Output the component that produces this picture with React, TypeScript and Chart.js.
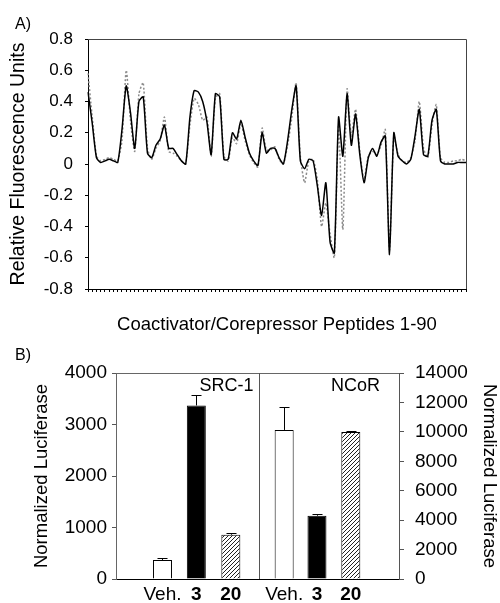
import React, { useEffect, useRef } from "react";
import { Chart, registerables } from "chart.js";

Chart.register(...registerables);

const FONT = "'Liberation Sans', Arial, Helvetica, sans-serif";

// ---------- Panel A data ----------
const peptideLabels = Array.from({ length: 90 }, (_, i) => String(i + 1));

const solidSeries = [
  0.46, 0.26, 0.04, 0.01, 0.02, 0.03, 0.02, 0.01, 0.22, 0.5,
  0.33, 0.1, 0.4, 0.43, 0.07, 0.04, 0.12, 0.16, 0.25, 0.1,
  0.1, 0.06, 0.02, 0.0, 0.3, 0.47, 0.46, 0.4, 0.27, 0.06,
  0.45, 0.43, 0.03, 0.03, 0.2, 0.16, 0.28, 0.17, 0.07, 0.02,
  -0.01, 0.2, 0.07, 0.1, 0.1, 0.04, 0.0, 0.15, 0.35, 0.5,
  0.02, -0.03, 0.03, 0.02, -0.14, -0.33, -0.12, -0.5, -0.57, 0.3,
  0.05, 0.45, 0.12, 0.32, 0.06, -0.12, 0.04, 0.1, 0.05, 0.14,
  0.18, -0.58, 0.2, 0.05, 0.02, 0.0, 0.03, 0.18, 0.35, 0.06,
  0.05, 0.28, 0.35, 0.02, 0.0, 0.0, 0.0, 0.01, 0.01, 0.01,
];

const dottedSeries = [
  0.58, 0.3, 0.05, 0.02, 0.03, 0.04, 0.03, 0.02, 0.15, 0.6,
  0.28, 0.08, 0.45, 0.52, 0.1, 0.03, 0.1, 0.15, 0.3, 0.08,
  0.07, 0.05, 0.02, 0.0, 0.25, 0.42, 0.38, 0.28, 0.3, 0.05,
  0.42, 0.45, 0.05, 0.02, 0.17, 0.13, 0.26, 0.15, 0.06, 0.01,
  -0.02, 0.23, 0.09, 0.09, 0.11, 0.03, 0.0, 0.12, 0.3, 0.52,
  0.05, -0.12, 0.02, 0.03, -0.1, -0.4, -0.25, -0.45, -0.6, 0.25,
  -0.42, 0.48, 0.18, 0.35, 0.08, -0.1, 0.05, 0.08, 0.06, 0.12,
  0.22, -0.55, 0.18, 0.06, 0.02, 0.01, 0.04, 0.15, 0.4, 0.1,
  0.04, 0.25, 0.38, 0.04, 0.01, 0.01, 0.02, 0.02, 0.03, 0.02,
];

// ---------- Panel B data ----------
const barLabels = ["Veh.", "3", "20", "Veh.", "3", "20"];
const src1Values = [370, 3370, 860];
const src1Errors = [40, 200, 30];
const ncorValues = [10130, 4300, 9990];
const ncorErrors = [1560, 140, 90];
const groupNames = ["SRC-1", "NCoR"];

// layout of bar slots along the linear x axis (layout, not data)
const SLOTS = [0.67, 1.66, 2.67, 4.23, 5.19, 6.18];
const X_MAX = 6.9;
const DIVIDER_AT = 3.49;

function makeHatch(): CanvasPattern | string {
  const c = document.createElement("canvas");
  c.width = 4;
  c.height = 4;
  const g = c.getContext("2d");
  if (!g) return "#888";
  g.fillStyle = "#fff";
  g.fillRect(0, 0, 4, 4);
  g.strokeStyle = "#222";
  g.lineWidth = 1;
  g.beginPath();
  g.moveTo(0, 4);
  g.lineTo(4, 0);
  g.moveTo(-1, 1);
  g.lineTo(1, -1);
  g.moveTo(3, 5);
  g.lineTo(5, 3);
  g.stroke();
  return g.createPattern(c, "repeat") || "#888";
}

const frameTopPlugin = {
  id: "frameTop",
  afterDatasetsDraw(chart: any) {
    const { ctx, chartArea: a } = chart;
    ctx.save();
    ctx.strokeStyle = "#444";
    ctx.lineWidth = 1;
    ctx.beginPath();
    ctx.moveTo(a.left, a.top + 0.5);
    ctx.lineTo(a.right + 0.5, a.top + 0.5);
    ctx.lineTo(a.right + 0.5, a.bottom);
    ctx.stroke();
    ctx.restore();
  },
};

const barDecorPlugin = {
  id: "barDecor",
  afterDatasetsDraw(chart: any) {
    const { ctx, chartArea: a } = chart;
    const xs = chart.scales.x;
    ctx.save();
    ctx.strokeStyle = "#666";
    ctx.lineWidth = 1;
    ctx.beginPath();
    ctx.moveTo(a.left, a.top + 0.5);
    ctx.lineTo(a.right, a.top + 0.5);
    ctx.stroke();
    const dx = Math.round(xs.getPixelForValue(DIVIDER_AT)) + 0.5;
    ctx.strokeStyle = "#555";
    ctx.beginPath();
    ctx.moveTo(dx, a.top);
    ctx.lineTo(dx, a.bottom);
    ctx.stroke();
    const errs = [src1Errors, ncorErrors];
    const vals = [src1Values, ncorValues];
    ctx.strokeStyle = "#000";
    chart.data.datasets.forEach((ds: any, di: number) => {
      const meta = chart.getDatasetMeta(di);
      const ys = chart.scales[ds.yAxisID];
      meta.data.forEach((bar: any, i: number) => {
        const top = ys.getPixelForValue(vals[di][i] + errs[di][i]);
        const bx = Math.round(bar.x) + 0.5;
        const ty = Math.round(top) + 0.5;
        ctx.beginPath();
        ctx.moveTo(bx, bar.y);
        ctx.lineTo(bx, ty);
        ctx.moveTo(bx - 5, ty);
        ctx.lineTo(bx + 5, ty);
        ctx.stroke();
      });
    });
    ctx.fillStyle = "#000";
    ctx.font = `18px ${FONT}`;
    ctx.textAlign = "right";
    ctx.textBaseline = "middle";
    ctx.fillText(groupNames[0], dx - 6, a.top + 13);
    ctx.fillText(groupNames[1], a.right - 19, a.top + 13);
    ctx.restore();
  },
};

const plain = (v: any) => String(Number(v));

function TopChart() {
  const ref = useRef<HTMLCanvasElement>(null);
  useEffect(() => {
    if (!ref.current) return;
    const chart = new Chart(ref.current, {
      type: "line",
      data: {
        labels: peptideLabels,
        datasets: [
          {
            label: "solid",
            data: solidSeries,
            borderColor: "#000",
            borderWidth: 1.5,
            pointRadius: 0,
            tension: 0.2,
            fill: false,
          },
          {
            label: "dotted",
            data: dottedSeries,
            borderColor: "#8a8a8a",
            borderWidth: 1.5,
            borderDash: [2, 2],
            pointRadius: 0,
            tension: 0.2,
            fill: false,
          },
        ],
      },
      options: {
        responsive: false,
        animation: false,
        layout: { padding: { left: 0, right: 34, top: 39, bottom: 0 } },
        plugins: { legend: { display: false }, tooltip: { enabled: false } },
        scales: {
          x: {
            type: "category",
            offset: false,
            grid: { display: true, drawOnChartArea: false, drawTicks: true, tickLength: 3, color: "#000" },
            border: { display: true, color: "#000", width: 1 },
            ticks: { display: false },
            title: {
              display: true,
              text: "Coactivator/Corepressor Peptides 1-90",
              color: "#000",
              font: { size: 18.5, family: FONT },
              padding: { top: 0, bottom: 4 },
            },
            afterFit: (s: any) => {
              s.height = 51;
            },
          },
          y: {
            min: -0.8,
            max: 0.8,
            grid: { display: true, drawOnChartArea: false, tickLength: 3, color: "#000" },
            border: { display: true, color: "#000", width: 1 },
            ticks: {
              stepSize: 0.2,
              color: "#000",
              padding: 12,
              font: { size: 17, family: FONT },
              callback: (v: any) => String(Math.round(Number(v) * 10) / 10),
            },
            title: {
              display: true,
              text: "Relative Fluorescence Units",
              color: "#000",
              font: { size: 19.5, family: FONT },
              padding: { top: 7, bottom: 0 },
            },
            afterFit: (s: any) => {
              s.width = 88;
            },
          },
        },
      },
      plugins: [frameTopPlugin],
    } as any);
    return () => chart.destroy();
  }, []);
  return (
    <canvas
      ref={ref}
      width={500}
      height={340}
      style={{ position: "absolute", left: 0, top: 0, width: 500, height: 340 }}
    />
  );
}

function BottomChart() {
  const ref = useRef<HTMLCanvasElement>(null);
  useEffect(() => {
    if (!ref.current) return;
    const hatch = makeHatch();
    const fills = ["#fff", "#000", hatch];
    const chart = new Chart(ref.current, {
      type: "bar",
      data: {
        datasets: [
          {
            label: groupNames[0],
            data: src1Values.map((v, i) => ({ x: SLOTS[i], y: v })),
            yAxisID: "y",
            backgroundColor: fills,
            borderColor: "#000",
            borderWidth: 1,
            grouped: false,
            maxBarThickness: 19,
          },
          {
            label: groupNames[1],
            data: ncorValues.map((v, i) => ({ x: SLOTS[i + 3], y: v })),
            yAxisID: "y2",
            backgroundColor: fills,
            borderColor: "#000",
            borderWidth: 1,
            grouped: false,
            maxBarThickness: 19,
          },
        ],
      },
      options: {
        responsive: false,
        animation: false,
        layout: { padding: { left: 0, right: 0, top: 33, bottom: 0 } },
        plugins: { legend: { display: false }, tooltip: { enabled: false } },
        scales: {
          x: {
            type: "linear",
            min: 0,
            max: X_MAX,
            grid: { display: false, drawTicks: false, tickLength: 0 },
            border: { display: true, color: "#000", width: 1 },
            afterBuildTicks: (s: any) => {
              s.ticks = SLOTS.map((v) => ({ value: v }));
            },
            ticks: {
              autoSkip: false,
              maxRotation: 0,
              minRotation: 0,
              padding: 4,
              color: "#000",
              callback: (_v: any, i: number) => barLabels[i],
              font: (ctx: any) => ({
                size: 19,
                family: FONT,
                weight: barLabels[ctx.index] === "Veh." ? "normal" : "bold",
              }),
            },
            afterFit: (s: any) => {
              s.height = 24;
            },
          },
          y: {
            position: "left",
            min: 0,
            max: 4000,
            grid: { display: true, drawOnChartArea: false, tickLength: 4, color: "#555" },
            border: { display: true, color: "#666", width: 1 },
            ticks: {
              stepSize: 1000,
              color: "#000",
              padding: 5,
              font: { size: 19, family: FONT },
              callback: plain,
            },
            title: {
              display: true,
              text: "Normalized Luciferase",
              color: "#000",
              font: { size: 18.5, family: FONT },
              padding: { top: 30.5, bottom: 0 },
            },
            afterFit: (s: any) => {
              s.width = 116;
            },
          },
          y2: {
            position: "right",
            min: 0,
            max: 14000,
            grid: { display: true, drawOnChartArea: false, tickLength: 5, color: "#555" },
            border: { display: true, color: "#555", width: 1 },
            ticks: {
              stepSize: 2000,
              color: "#000",
              padding: 11,
              font: { size: 19, family: FONT },
              callback: plain,
            },
            title: {
              display: true,
              text: "Normalized Luciferase",
              color: "#000",
              font: { size: 18.5, family: FONT },
              padding: { top: 0, bottom: 0 },
            },
            afterFit: (s: any) => {
              s.width = 101;
            },
          },
        },
      },
      plugins: [barDecorPlugin],
    } as any);
    return () => chart.destroy();
  }, []);
  return (
    <canvas
      ref={ref}
      width={500}
      height={263}
      style={{ position: "absolute", left: 0, top: 340, width: 500, height: 263 }}
    />
  );
}

export default function App() {
  const panelLabel: React.CSSProperties = {
    position: "absolute",
    left: 15,
    fontFamily: FONT,
    fontSize: 16,
    lineHeight: 1,
    color: "#000",
  };
  return (
    <div
      style={{
        position: "fixed",
        left: 0,
        top: 0,
        width: 500,
        height: 603,
        background: "#fff",
        overflow: "hidden",
      }}
    >
      <TopChart />
      <BottomChart />
      <div style={{ ...panelLabel, top: 16 }}>A)</div>
      <div style={{ ...panelLabel, top: 347 }}>B)</div>
    </div>
  );
}
